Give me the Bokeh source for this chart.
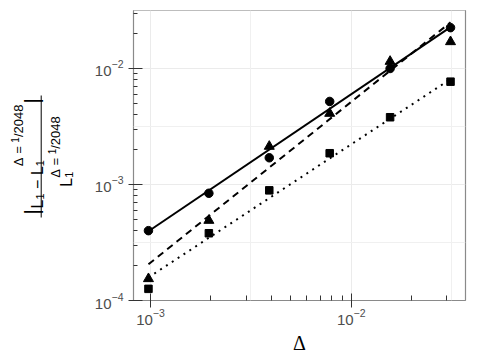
import math
from bokeh.plotting import figure
from bokeh.layouts import row
from bokeh.models import Label, BoxAnnotation, FixedTicker, Grid, Range1d
from bokeh.embed import file_html
from bokeh.resources import INLINE

# ---- data ----
delta = [1/1024, 1/512, 1/256, 1/128, 1/64, 1/32]
err_circle = [4.0e-4, 8.4e-4, 1.7e-3, 5.2e-3, 1.0e-2, 2.25e-2]
err_triangle = [1.54e-4, 4.9e-4, 2.13e-3, 4.1e-3, 1.15e-2, 1.7e-2]
err_square = [1.26e-4, 3.8e-4, 8.9e-4, 1.86e-3, 3.8e-3, 7.7e-3]

fit_x = [1/1024, 1/32]
fit_circle = [3.95e-4, 2.27e-2]
fit_triangle = [2.05e-4, 2.5e-2]
fit_square = [1.58e-4, 8.1e-3]

x_major_ticks = [1e-3, 1e-2]
x_minor_ticks = [2e-3, 3e-3, 4e-3, 5e-3, 6e-3, 7e-3, 8e-3, 9e-3, 2e-2, 3e-2]
y_major_ticks = [1e-4, 1e-3, 1e-2]
y_minor_ticks = [2e-4, 3e-4, 4e-4, 5e-4, 6e-4, 7e-4, 8e-4, 9e-4,
                 2e-3, 3e-3, 4e-3, 5e-3, 6e-3, 7e-3, 8e-3, 9e-3, 2e-2, 3e-2]
x_grid_minor = [10**-2.5, 10**-1.5]
y_grid_minor = [10**-3.5, 10**-2.5, 10**-1.5]

FONT = "Liberation Sans"
LW = 88   # width of the left panel holding the y-label

p = figure(x_axis_type="log", y_axis_type="log",
           x_range=Range1d(8.226e-4, 0.03711), y_range=Range1d(1e-4, 0.03162),
           frame_width=332, frame_height=290,
           min_border_left=45, min_border_right=14, min_border_top=10, min_border_bottom=5,
           output_backend="svg", toolbar_location=None, align="start")

p.background_fill_color = "white"
p.border_fill_color = "white"
p.outline_line_color = "#8a8a8a"
p.outline_line_width = 1.2

p.xaxis.ticker = FixedTicker(ticks=x_major_ticks, minor_ticks=x_minor_ticks)
p.yaxis.ticker = FixedTicker(ticks=y_major_ticks, minor_ticks=y_minor_ticks)

# grids
p.xgrid.ticker = FixedTicker(ticks=x_major_ticks)
p.ygrid.ticker = FixedTicker(ticks=y_major_ticks)
for g in (p.xgrid, p.ygrid):
    g.grid_line_color = "#EBEBEB"
    g.grid_line_width = 1
p.add_layout(Grid(dimension=0, ticker=FixedTicker(ticks=x_grid_minor),
                  grid_line_color="#F0F0F0", grid_line_width=1))
p.add_layout(Grid(dimension=1, ticker=FixedTicker(ticks=y_grid_minor),
                  grid_line_color="#F0F0F0", grid_line_width=1))

# axes
for ax in (p.xaxis, p.yaxis):
    ax.axis_line_color = None
    ax.major_tick_line_color = "#333333"
    ax.minor_tick_line_color = "#333333"
    ax.minor_tick_out = 0
    ax.major_label_text_font = FONT
    ax.major_label_text_font_size = "15px"
    ax.major_label_text_color = "#4d4d4d"
p.xaxis.major_tick_in = 7
p.xaxis.major_tick_out = 7
p.xaxis.minor_tick_in = 5
p.xaxis.major_label_standoff = 1
p.yaxis.major_tick_in = 9
p.yaxis.major_tick_out = 5
p.yaxis.minor_tick_in = 4
p.yaxis.major_label_standoff = 5

p.xaxis.axis_label = "Δ"
p.xaxis.axis_label_text_font = "Liberation Serif"
p.xaxis.axis_label_text_font_size = "20px"
p.xaxis.axis_label_text_font_style = "normal"
p.xaxis.axis_label_text_color = "black"
p.xaxis.axis_label_standoff = 4

# fitted lines
p.line(fit_x, fit_circle, line_color="black", line_width=2)
p.line(fit_x, fit_triangle, line_color="black", line_width=2, line_dash="7 5")
p.line(fit_x, fit_square, line_color="black", line_width=2, line_dash="2 5")

# points
p.scatter(delta, err_circle, marker="circle", size=8.5, color="black")
p.scatter(delta, err_triangle, marker="triangle", size=10, color="black")
p.scatter(delta, err_square, marker="square", size=7.5, color="black")

# ---- left panel holding the rotated fraction y-label ----
# its frame is aligned with the main frame (page y 10..300), so data y == page y
yl = figure(frame_width=LW, frame_height=290, x_range=Range1d(0, LW), y_range=Range1d(300, 10),
            min_border_left=0, min_border_right=0, min_border_top=0, min_border_bottom=0,
            x_axis_location=None, y_axis_location=None, title=None,
            output_backend="svg", toolbar_location=None, align="start")
yl.outline_line_color = None
yl.xgrid.visible = False
yl.ygrid.visible = False

W = {'L': 0.556, '1': 0.556, '|': 0.26, '−': 0.584, 'Δ': 0.668,
     '=': 0.584, '/': 0.278, '0': 0.556, '2': 0.556, '4': 0.556, '8': 0.556}

def tw(s, size):
    return sum(W[c] for c in s) * size

def total_len(pieces):
    return sum((size if t == "GAP" else tw(t, size)) for t, size, bx, adv in pieces if adv)

def place(pieces, center_y):
    y = center_y + total_len(pieces) / 2
    for t, size, bx, adv in pieces:
        if t == "GAP":
            y -= size
            continue
        yl.add_layout(Label(x=bx, y=y, text=t, angle=math.pi / 2, text_align="left",
                            text_baseline="alphabetic", text_font=FONT,
                            text_font_size=f"{size}px", text_color="black"))
        if adv:
            y -= tw(t, size)

NB = 36.5
BAR = 31.0
num = [("|", 20, BAR, True), ("GAP", 1.0, 0, True), ("L", 16, NB, True),
       ("1", 11, NB + 3, True),
       ("GAP", 4.5, 0, True), ("−", 16, NB, True), ("GAP", 4.5, 0, True),
       ("L", 16, NB, True), ("1", 11, NB + 3, False),
       ("Δ", 13, 17.5, True), ("GAP", 3.6, 0, True), ("=", 13, 17.5, True),
       ("GAP", 3.6, 0, True), ("1", 10, 14.0, True), ("/2048", 13, 17.5, True),
       ("GAP", 1.0, 0, True), ("|", 20, BAR, True)]
DB = 65.5
den = [("L", 16, DB, True), ("1", 11, DB + 3, False),
       ("Δ", 13, 55.0, True), ("GAP", 3.6, 0, True), ("=", 13, 55.0, True),
       ("GAP", 3.6, 0, True), ("1", 10, 51.5, True), ("/2048", 13, 55.0, True)]
place(num, 156)
place(den, 151)

yl.add_layout(BoxAnnotation(left=40.2, right=41.2, bottom=217, top=95,
                            fill_color="black", fill_alpha=1, line_color=None))

layout = row(yl, p)
open("out.html", "w").write(file_html(layout, INLINE))
